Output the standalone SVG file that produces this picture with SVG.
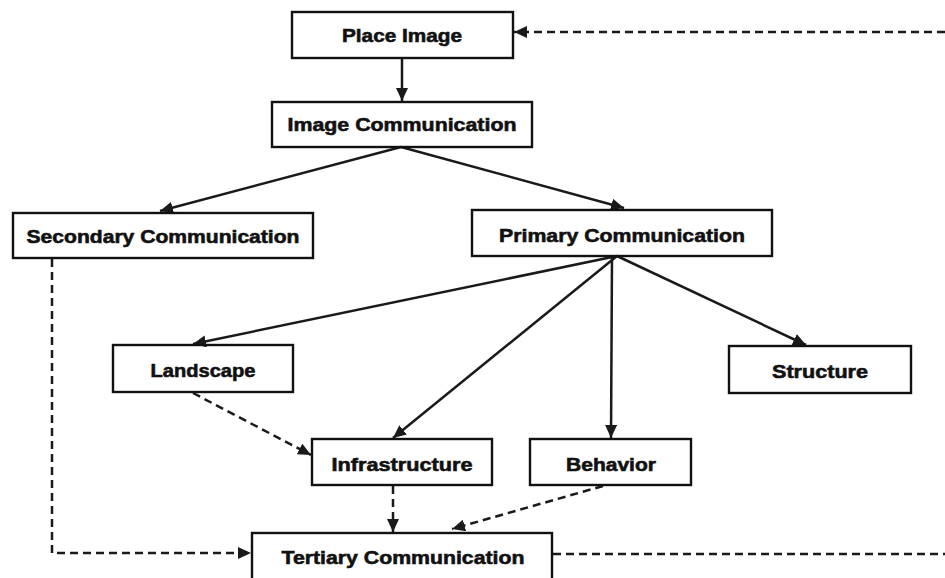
<svg xmlns="http://www.w3.org/2000/svg" width="945" height="578" viewBox="0 0 945 578">
  <style>
    .box { fill: none; stroke: #111; stroke-width: 2.4; }
    .lbl { font-family: "Liberation Sans", Arial, sans-serif; font-weight: bold; font-size: 19px; fill: #111; stroke: #111; stroke-width: 0.6; text-anchor: middle; }
    .solid { fill: none; stroke: #1a1a1a; stroke-width: 2.5; }
    .dash { fill: none; stroke: #1a1a1a; stroke-width: 2.5; stroke-dasharray: 8 5; }
  </style>
  <defs>
    <marker id="arrow" markerUnits="userSpaceOnUse" markerWidth="14" markerHeight="12" refX="13" refY="6" orient="auto">
      <path d="M0,0 L13,6 L0,12 z" fill="#1a1a1a"/>
    </marker>
  </defs>

  <rect width="945" height="578" fill="#ffffff"/>

  <!-- connectors -->
  <g id="connectors">
    <line class="solid" x1="402" y1="58" x2="402" y2="101" marker-end="url(#arrow)"/>
    <line class="solid" x1="401" y1="147" x2="160" y2="211" marker-end="url(#arrow)"/>
    <line class="solid" x1="401" y1="147" x2="624" y2="208" marker-end="url(#arrow)"/>
    <line class="solid" x1="617" y1="256" x2="193" y2="344" marker-end="url(#arrow)"/>
    <line class="solid" x1="617" y1="256" x2="393" y2="438" marker-end="url(#arrow)"/>
    <line class="solid" x1="612" y1="256" x2="611" y2="438" marker-end="url(#arrow)"/>
    <line class="solid" x1="617" y1="256" x2="806" y2="345" marker-end="url(#arrow)"/>

    <line class="dash" x1="193" y1="393" x2="311" y2="455" marker-end="url(#arrow)"/>
    <line class="dash" x1="393" y1="486" x2="393" y2="532" marker-end="url(#arrow)"/>
    <line class="dash" x1="603" y1="486" x2="452" y2="529" marker-end="url(#arrow)"/>
    <polyline class="dash" points="52,259 52,553 251,553" marker-end="url(#arrow)"/>
    <line class="dash" x1="553" y1="554" x2="945" y2="554"/>
    <line class="dash" x1="945" y1="32" x2="514" y2="32" marker-end="url(#arrow)"/>
  </g>

  <!-- nodes -->
  <g id="place-image">
    <rect class="box" x="292" y="12" width="221" height="46"/>
    <text class="lbl" x="402" y="42" textLength="120" lengthAdjust="spacingAndGlyphs">Place Image</text>
  </g>
  <g id="image-communication">
    <rect class="box" x="272" y="102" width="260" height="45"/>
    <text class="lbl" x="402" y="131" textLength="229" lengthAdjust="spacingAndGlyphs">Image Communication</text>
  </g>
  <g id="secondary-communication">
    <rect class="box" x="13" y="213" width="300" height="45"/>
    <text class="lbl" x="163" y="243" textLength="273" lengthAdjust="spacingAndGlyphs">Secondary Communication</text>
  </g>
  <g id="primary-communication">
    <rect class="box" x="472" y="210" width="300" height="46"/>
    <text class="lbl" x="622" y="242" textLength="246" lengthAdjust="spacingAndGlyphs">Primary Communication</text>
  </g>
  <g id="landscape">
    <rect class="box" x="113" y="345" width="180" height="47"/>
    <text class="lbl" x="203" y="377" textLength="105" lengthAdjust="spacingAndGlyphs">Landscape</text>
  </g>
  <g id="structure">
    <rect class="box" x="729" y="346" width="182" height="47"/>
    <text class="lbl" x="820" y="378" textLength="96" lengthAdjust="spacingAndGlyphs">Structure</text>
  </g>
  <g id="infrastructure">
    <rect class="box" x="312" y="439" width="180" height="46"/>
    <text class="lbl" x="402" y="471" textLength="141" lengthAdjust="spacingAndGlyphs">Infrastructure</text>
  </g>
  <g id="behavior">
    <rect class="box" x="530" y="439" width="161" height="46"/>
    <text class="lbl" x="611" y="471" textLength="90" lengthAdjust="spacingAndGlyphs">Behavior</text>
  </g>
  <g id="tertiary-communication">
    <rect class="box" x="252" y="533" width="300" height="60"/>
    <text class="lbl" x="403" y="564" textLength="243" lengthAdjust="spacingAndGlyphs">Tertiary Communication</text>
  </g>
</svg>
